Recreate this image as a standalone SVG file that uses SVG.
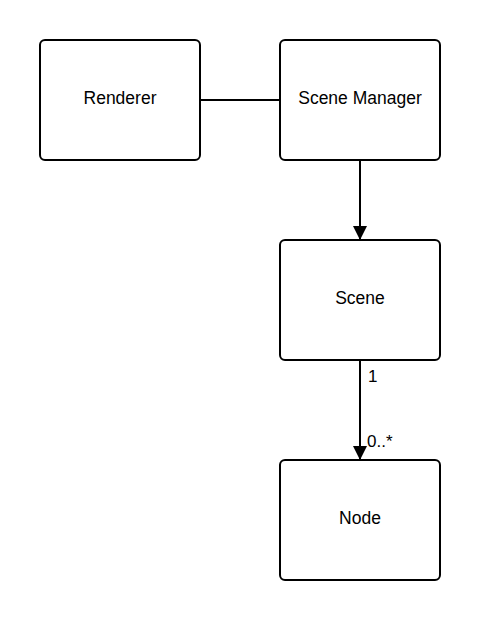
<svg xmlns="http://www.w3.org/2000/svg" width="480" height="620" viewBox="0 0 480 620">
<style>
.box{fill:#fff;stroke:#000;stroke-width:2}
.lbl{font-family:"Liberation Sans",Arial,sans-serif;font-size:17.5px;fill:#000;text-anchor:middle;dominant-baseline:central}
.mult{font-family:"Liberation Sans",Arial,sans-serif;font-size:17px;fill:#000}
.edge{stroke:#000;stroke-width:2;fill:none}
</style>
<defs>
<marker id="arr" viewBox="0 0 14 18" refX="14" refY="9" markerWidth="14" markerHeight="18" markerUnits="userSpaceOnUse" orient="auto">
<path d="M0,2 L14,9 L0,16 Z" fill="#000"/>
</marker>
</defs>
<rect width="480" height="620" fill="#fff"/>
<g id="connectors">
<line class="edge" x1="200" y1="100" x2="280" y2="100"/>
<line class="edge" x1="360" y1="160" x2="360" y2="240" marker-end="url(#arr)"/>
<line class="edge" x1="360" y1="360" x2="360" y2="460" marker-end="url(#arr)"/>
<text class="mult" x="368" y="382">1</text>
<text class="mult" x="367" y="447">0..*</text>
</g>
<g id="renderer"><rect class="box" x="40" y="40" width="160" height="120" rx="5"/><text class="lbl" x="120" y="98">Renderer</text></g>
<g id="scene-manager"><rect class="box" x="280" y="40" width="160" height="120" rx="5"/><text class="lbl" x="360" y="98">Scene Manager</text></g>
<g id="scene"><rect class="box" x="280" y="240" width="160" height="120" rx="5"/><text class="lbl" x="360" y="298">Scene</text></g>
<g id="node"><rect class="box" x="280" y="460" width="160" height="120" rx="5"/><text class="lbl" x="360" y="518">Node</text></g>
</svg>
